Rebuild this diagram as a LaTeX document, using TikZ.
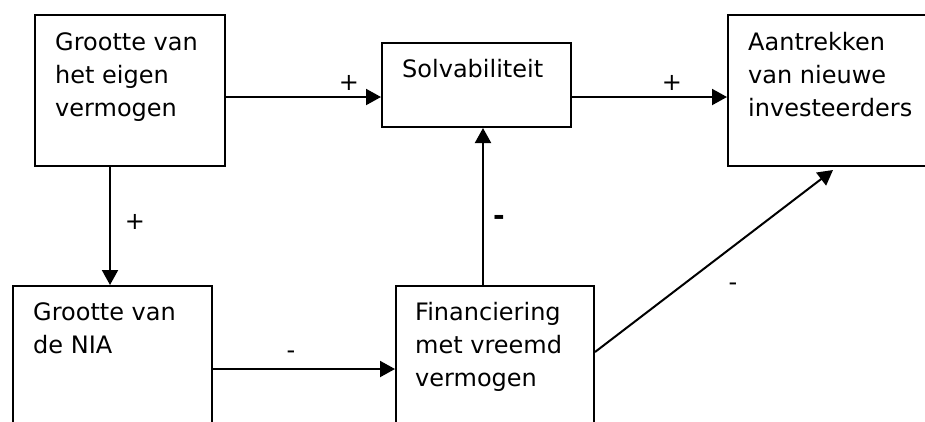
\documentclass[tikz,border=0pt]{standalone}
\usepackage{fontspec}
\setmainfont{DejaVu Sans}
\usetikzlibrary{arrows.meta,calc}
\begin{document}
\begin{tikzpicture}[x=1pt,y=-1pt,
  box/.style={draw,line width=2pt,anchor=north west,inner sep=0pt},
  txt/.style={anchor=base west,inner sep=0pt,align=left,font=\fontsize{24}{33}\selectfont},
  arr/.style={line width=2pt,-{Triangle[length=15pt,width=16pt]}},
  lbl/.style={inner sep=0pt,font=\fontsize{24}{28}\selectfont}]
\useasboundingbox (0,0) rectangle (925,421);
\clip (0,0) rectangle (925,421);
\node[box,minimum width=190pt,minimum height=151pt] (A) at (34,14) {};
\node[box,minimum width=189pt,minimum height=84pt] (S) at (381,42) {};
\node[box,minimum width=240pt,minimum height=151pt] (T) at (727,14) {};
\node[box,minimum width=199pt,minimum height=200pt] (N) at (12,285) {};
\node[box,minimum width=198pt,minimum height=200pt] (F) at (395,285) {};
% base anchor of a multi-line node is the baseline of its last line
\node[txt] (tA) at ($(A.north west)+(21,36+66)$) {Grootte van\\het eigen\\vermogen};
\node[txt] (tS) at ($(S.north west)+(21,35)$) {Solvabiliteit};
\node[txt] (tT) at ($(T.north west)+(21,36+66)$) {Aantrekken\\van nieuwe\\investeerders};
\node[txt] (tN) at ($(N.north west)+(21,35+33)$) {Grootte van\\de NIA};
\node[txt] (tF) at ($(F.north west)+(20,35+66)$) {Financiering\\met vreemd\\vermogen};
\coordinate (r1) at (0,97);
\coordinate (c1) at (110,0);
\coordinate (r2) at (0,369);
\coordinate (c2) at (483,0);
\coordinate (r3) at (0,352);
\coordinate (c3) at (833,0);
\draw[arr] (A.east |- r1) -- (S.west |- r1);
\draw[arr] (S.east |- r1) -- (T.west |- r1);
\draw[arr] (A.south -| c1) -- (N.north -| c1);
\draw[arr] (N.east |- r2) -- (F.west |- r2);
\draw[arr] (F.north -| c2) -- (S.south -| c2);
\draw[arr] (F.east |- r3) -- ($(T.south -| c3)+(0,3)$);
\node[lbl] (p1) at (349,83) {+};
\node[lbl] (p2) at (672,83) {+};
\node[lbl] (p3) at (135,222) {+};
\node[lbl] (m1) at (291,355) {-};
\node[lbl,font=\fontsize{28}{30}\selectfont\bfseries] (m2) at (499,220) {-};
\node[lbl] (m3) at (733,287) {-};
\end{tikzpicture}
\end{document}
